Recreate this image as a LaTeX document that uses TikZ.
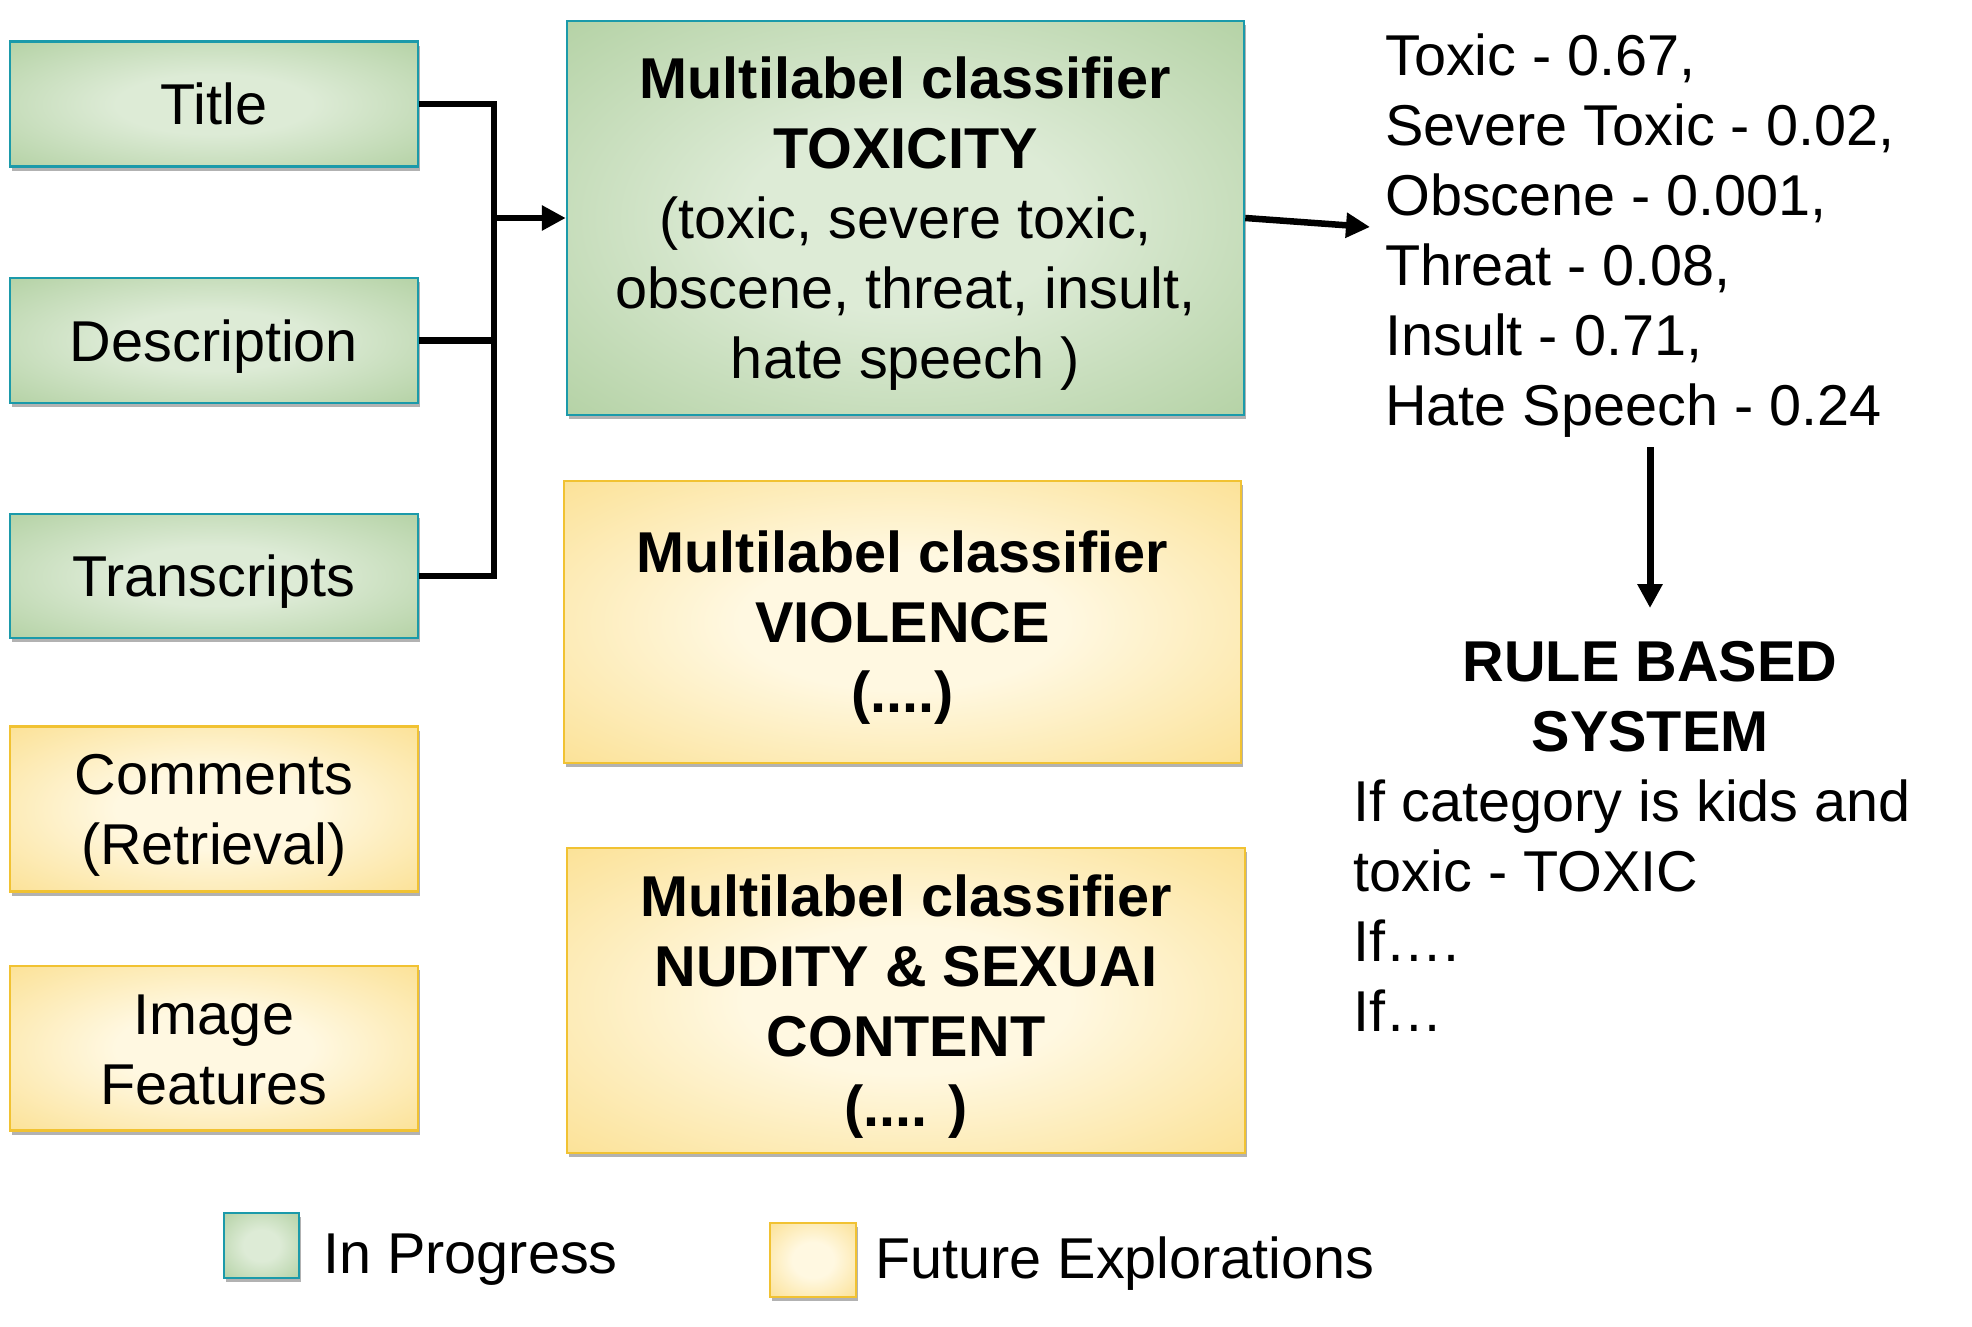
\documentclass[tikz,border=0pt]{standalone}
\usepackage{fontspec}
\setmainfont{Liberation Sans}
\usetikzlibrary{arrows.meta,shadows}
\definecolor{gin}{HTML}{DDEBD6}
\definecolor{gout}{HTML}{9CC388}
\definecolor{gborder}{HTML}{1B9AAA}
\definecolor{yin}{HTML}{FFF8E1}
\definecolor{yout}{HTML}{F9D46A}
\definecolor{yborder}{HTML}{F1C232}
\pgfdeclareradialshading{gshade}{\pgfpoint{0bp}{0bp}}{color(0bp)=(gin); color(12bp)=(gin); color(50bp)=(gout)}
\pgfdeclareradialshading{yshade}{\pgfpoint{0bp}{0bp}}{color(0bp)=(yin); color(12bp)=(yin); color(50bp)=(yout)}
\newcommand\bigtext{\fontsize{57.6}{70}\selectfont}
\newcommand\mlines[1]{\begin{tabular}[b]{@{}c@{}}#1\end{tabular}}
\newcommand\tlines[2]{\begin{tabular}[t]{@{}#1@{}}#2\end{tabular}}
\begin{document}
\begin{tikzpicture}[x=1pt,y=-1pt,
  box/.style={rectangle, inner sep=0pt, text depth=0pt, font=\bigtext,
    drop shadow={shadow xshift=1.5pt, shadow yshift=-4pt, opacity=0.3, fill=black}},
  gbox/.style={box, shade, shading=gshade, draw=gborder, line width=2.5pt},
  ybox/.style={box, shade, shading=yshade, draw=yborder, line width=2.5pt},
  lbl/.style={inner sep=0pt, font=\bigtext},
  conn/.style={line width=6.5pt, black},
  arr/.style={conn, -{Triangle[length=24pt,width=24pt]}}]
\fill[white] (0,0) rectangle (1972,1327);
\useasboundingbox (0,0) rectangle (1972,1327);

% input boxes
\node[gbox, minimum width=408pt, minimum height=125pt, text height=41.5pt] (title) at (214,104.2) {Title};
\node[gbox, minimum width=408pt, minimum height=125pt, text height=41.5pt] (desc) at (214,340.5) {Description};
\node[gbox, minimum width=408pt, minimum height=124pt, text height=41.5pt] (trans) at (214,576) {Transcripts};
\node[ybox, minimum width=408pt, minimum height=165pt, text height=111.5pt] (comm) at (214,809.2) {\mlines{Comments\\(Retrieval)}};
\node[ybox, minimum width=408pt, minimum height=164.5pt, text height=111.5pt] (img) at (214,1048.3) {\mlines{Image\\Features}};

% classifiers
\node[gbox, minimum width=677pt, minimum height=394pt, text height=321.5pt] (tox) at (905.5,218)
  {\mlines{\bfseries Multilabel classifier\\\bfseries TOXICITY\\(toxic, severe toxic,\\obscene, threat, insult,\\hate speech )}};
\node[ybox, minimum width=677pt, minimum height=282pt, text height=181.5pt] (vio) at (902.5,622)
  {\mlines{\bfseries Multilabel classifier\\\bfseries VIOLENCE\\\bfseries (....)}};
\node[ybox, minimum width=678pt, minimum height=305pt, text height=251.5pt] (nud) at (906,1000.5)
  {\mlines{\bfseries Multilabel classifier\\\bfseries NUDITY \& SEXUAI\\\bfseries CONTENT\\\bfseries (.... )}};

% outputs
\node[lbl, anchor=base west] (scores) at (1385,76)
  {\tlines{l}{Toxic - 0.67,\\Severe Toxic - 0.02,\\Obscene - 0.001,\\Threat - 0.08,\\Insult - 0.71,\\Hate Speech - 0.24}};
\node[lbl, anchor=base, font=\bigtext\bfseries] (rule) at (1650,681.7) {\tlines{c}{RULE BASED\\SYSTEM}};
\node[lbl, anchor=base west] (rules) at (1353.5,821.7)
  {\tlines{l}{If category is kids and\\toxic - TOXIC\\If….\\If…}};

% legend
\node[gbox, minimum width=75pt, minimum height=65pt] (lgG) at (261.5,1245.5) {};
\node[lbl, anchor=base west] (lgGt) at (323,1273) {In Progress};
\node[ybox, minimum width=86pt, minimum height=74pt] (lgY) at (813,1260) {};
\node[lbl, anchor=base west] (lgYt) at (875,1278) {Future Explorations};

% connectors
\coordinate (jx) at (494,104.2);
\draw[conn] (title.east) -- (title.east -| jx) -- (trans.east -| jx) -- (trans.east);
\draw[conn] (desc.east) -- (desc.east -| jx);
\draw[arr] (tox.west -| jx) -- (tox.west);
\coordinate (scin) at (1370,227);
\draw[arr] (tox.east) -- (scin);
\coordinate (vtop) at (1650,447);
\coordinate (vend) at (1650,608);
\draw[arr, line width=7pt] (vtop) -- (vend);
\end{tikzpicture}
\end{document}
